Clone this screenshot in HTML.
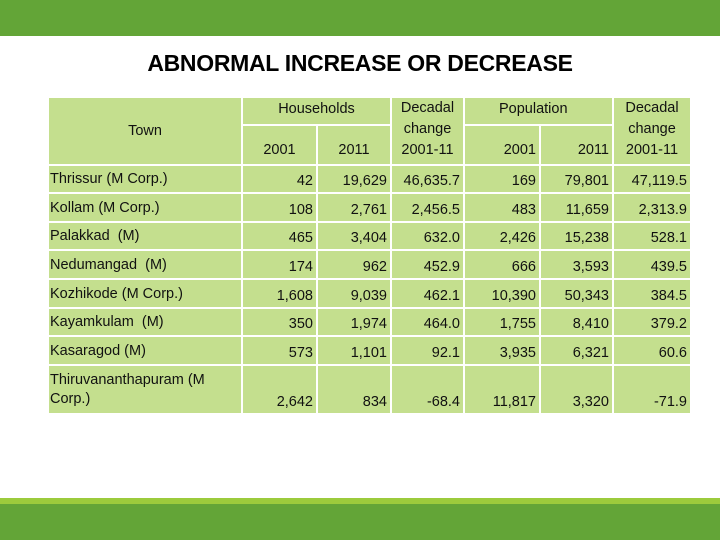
<!DOCTYPE html>
<html><head><meta charset="utf-8"><style>
body{margin:0;width:720px;height:540px;position:relative;background:#fff;font-family:"Liberation Sans",sans-serif;overflow:hidden}
.bar{position:absolute;left:0;width:720px}
h1{position:absolute;top:50px;left:0;width:720px;text-align:center;margin:0;font-size:23px;font-weight:bold;color:#000;letter-spacing:-0.3px}
table{position:absolute;left:47px;top:96px;border-collapse:collapse;table-layout:fixed;font-size:14.5px;color:#111}
td{background:#c4df8e;border:2px solid #fff;padding:0 3px;white-space:nowrap}
td.n{text-align:right;vertical-align:bottom;padding-bottom:3px}
td.t{text-align:left;padding-left:1px}
.h td{text-align:center;line-height:21px}
</style></head><body>
<div class="bar" style="top:0;height:36px;background:#63a537"></div>
<h1>ABNORMAL INCREASE OR DECREASE</h1>
<table>
<colgroup><col style="width:194px"><col style="width:75px"><col style="width:74px"><col style="width:73px"><col style="width:76px"><col style="width:73px"><col style="width:78px"></colgroup>
<tr class="h" style="height:28px">
<td rowspan="2">Town</td>
<td colspan="2" style="vertical-align:top;padding-top:1px">Households</td>
<td rowspan="2" style="vertical-align:bottom;padding-bottom:3px">Decadal<br>change<br>2001-11</td>
<td colspan="2" style="vertical-align:top;text-align:left;padding-left:34px;padding-top:1px">Population</td>
<td rowspan="2" style="vertical-align:bottom;padding-bottom:3px">Decadal<br>change<br>2001-11</td></tr>
<tr class="h" style="height:40px"><td style="vertical-align:bottom;padding-bottom:3px">2001</td><td style="vertical-align:bottom;padding-bottom:3px">2011</td><td style="vertical-align:bottom;padding-bottom:3px;text-align:right">2001</td><td style="vertical-align:bottom;padding-bottom:3px;text-align:right">2011</td></tr>
<tr style="height:28px"><td class="t">Thrissur (M Corp.)</td><td class="n">42</td><td class="n">19,629</td><td class="n">46,635.7</td><td class="n">169</td><td class="n">79,801</td><td class="n">47,119.5</td></tr>
<tr style="height:29px"><td class="t">Kollam (M Corp.)</td><td class="n">108</td><td class="n">2,761</td><td class="n">2,456.5</td><td class="n">483</td><td class="n">11,659</td><td class="n">2,313.9</td></tr>
<tr style="height:28px"><td class="t">Palakkad &nbsp;(M)</td><td class="n">465</td><td class="n">3,404</td><td class="n">632.0</td><td class="n">2,426</td><td class="n">15,238</td><td class="n">528.1</td></tr>
<tr style="height:29px"><td class="t">Nedumangad &nbsp;(M)</td><td class="n">174</td><td class="n">962</td><td class="n">452.9</td><td class="n">666</td><td class="n">3,593</td><td class="n">439.5</td></tr>
<tr style="height:29px"><td class="t">Kozhikode (M Corp.)</td><td class="n">1,608</td><td class="n">9,039</td><td class="n">462.1</td><td class="n">10,390</td><td class="n">50,343</td><td class="n">384.5</td></tr>
<tr style="height:28px"><td class="t">Kayamkulam &nbsp;(M)</td><td class="n">350</td><td class="n">1,974</td><td class="n">464.0</td><td class="n">1,755</td><td class="n">8,410</td><td class="n">379.2</td></tr>
<tr style="height:29px"><td class="t">Kasaragod (M)</td><td class="n">573</td><td class="n">1,101</td><td class="n">92.1</td><td class="n">3,935</td><td class="n">6,321</td><td class="n">60.6</td></tr>
<tr style="height:49px"><td class="t" style="white-space:normal;line-height:19px">Thiruvananthapuram (M Corp.)</td><td class="n">2,642</td><td class="n">834</td><td class="n">-68.4</td><td class="n">11,817</td><td class="n">3,320</td><td class="n">-71.9</td></tr>
</table>
<div class="bar" style="top:498px;height:6px;background:#9ccb3c"></div>
<div class="bar" style="top:504px;height:36px;background:#63a537"></div>
</body></html>
